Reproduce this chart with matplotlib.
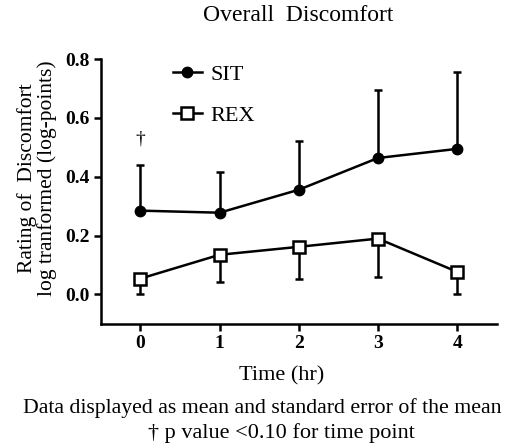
import numpy as np
from matplotlib import pyplot as plt
from matplotlib.lines import Line2D

plt.rcParams['font.family'] = ['Liberation Serif', 'DejaVu Serif']

# data
hours = [0, 1, 2, 3, 4]
sit_mean = [0.285, 0.278, 0.356, 0.464, 0.495]
sit_upper = [0.44, 0.417, 0.522, 0.695, 0.757]
rex_mean = [0.054, 0.135, 0.162, 0.19, 0.077]
rex_lower = [0.0, 0.044, 0.054, 0.061, 0.0]

sit_err = [np.zeros(len(hours)), np.array(sit_upper) - np.array(sit_mean)]
rex_err = [np.array(rex_mean) - np.array(rex_lower), np.zeros(len(hours))]

fig = plt.figure(figsize=(5.09, 4.48), dpi=100)
ax = fig.add_axes([0.198, 0.277, 0.778, 0.591])

lw = 1.8
ax.errorbar(hours, sit_mean, yerr=sit_err, color="black", lw=lw, marker="o",
            ms=7.5, mfc="black", capsize=3, capthick=lw, elinewidth=lw)
ax.errorbar(hours, rex_mean, yerr=rex_err, color="black", lw=lw, marker="s",
            ms=8, mfc="white", mew=lw, capsize=3, capthick=lw, elinewidth=lw)

# significance mark at time 0
ax.text(0, 0.528, "\u2020", ha="center", va="center", fontsize=14)

ax.set_xlim(-0.5, 4.5)
ax.set_ylim(-0.1, 0.8)
ax.set_xticks(hours)
ax.set_yticks([0.0, 0.2, 0.4, 0.6, 0.8])
ax.set_yticklabels(["0.0", "0.2", "0.4", "0.6", "0.8"])
for lbl in ax.get_xticklabels() + ax.get_yticklabels():
    lbl.set_fontweight("bold")
    lbl.set_fontsize(14)
ax.tick_params(direction="out", length=5, width=lw, pad=3)
ax.spines["top"].set_visible(False)
ax.spines["right"].set_visible(False)
ax.spines["left"].set_linewidth(lw)
ax.spines["bottom"].set_linewidth(lw)

ax.set_xlabel("Time (hr)", fontsize=16)
ax.xaxis.set_label_coords(0.457, -0.158)
ax.set_ylabel("Rating of  Discomfort\nlog tranformed (log-points)", fontsize=15.5,
              linespacing=1.0)
ax.yaxis.set_label_coords(-0.111, 0.55)
fig.text(0.586, 0.966, "Overall  Discomfort", ha="center", va="center", fontsize=17)

handles = [
    Line2D([], [], color="black", lw=lw, marker="o", ms=7.5, mfc="black"),
    Line2D([], [], color="black", lw=lw, marker="s", ms=8, mfc="white", mew=lw),
]
ax.legend(handles, ["SIT", "REX"], loc="upper left",
          bbox_to_anchor=(173 / 509, 1 - 64 / 448), bbox_transform=fig.transFigure,
          frameon=False, fontsize=16, handlelength=1.3, handletextpad=0.4,
          labelspacing=0.95, borderpad=0, borderaxespad=0)

fig.text(262 / 509, 1 - 413 / 448, "Data displayed as mean and standard error of the mean",
         ha="center", va="baseline", fontsize=15.7)
fig.text(281 / 509, 1 - 438 / 448, "\u2020 p value <0.10 for time point",
         ha="center", va="baseline", fontsize=16)

fig.savefig("out.png", dpi=100)
